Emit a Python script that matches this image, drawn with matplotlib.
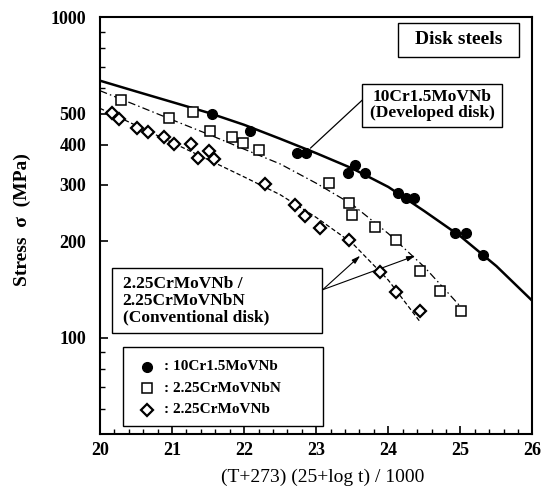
import matplotlib
matplotlib.use("Agg")
import matplotlib.pyplot as plt
from matplotlib.ticker import FixedLocator, NullFormatter, MultipleLocator
from matplotlib.patches import Rectangle

plt.rcParams['font.family'] = ['Liberation Serif', 'DejaVu Serif']

# ---- data ----
circ_x = [21.55, 22.08, 22.73, 22.86, 23.44, 23.54, 23.68, 24.14, 24.24, 24.35, 24.93, 25.08, 25.32]
circ_y = [500, 442, 376, 376, 325, 345, 325, 283, 272, 272, 212, 212, 181]

sq_x = [20.29, 20.96, 21.29, 21.53, 21.83, 21.98, 22.20, 23.17, 23.45, 23.50, 23.81, 24.10, 24.44, 24.72, 25.01]
sq_y = [551, 484, 505, 442, 422, 404, 385, 303, 262, 242, 222, 202, 161, 140, 121]

dia_x = [20.16, 20.27, 20.51, 20.66, 20.89, 21.02, 21.26, 21.36, 21.51, 21.58, 22.29, 22.71, 22.85, 23.05, 23.45, 23.89, 24.11, 24.44]
dia_y = [501, 480, 450, 439, 422, 401, 401, 363, 383, 361, 301, 260, 240, 219, 202, 160, 139, 121]

# fitted curves
solid_x = [20, 20.5, 21, 21.5, 22, 22.5, 23, 23.5, 24, 24.5, 25, 25.5, 26]
solid_y = [633, 586, 543, 503, 461, 417, 376, 337, 295, 248, 207, 167, 130]

dashdot_x = [20, 20.5, 21, 21.5, 22, 22.5, 23, 23.5, 24, 24.5, 25]
dashdot_y = [589, 531, 478, 431, 387, 348, 303, 260, 211, 166, 125]

dashed_x = [20, 20.5, 21, 21.5, 22, 22.5, 23, 23.5, 24, 24.44]
dashed_y = [519, 459, 406, 359, 317, 279, 237, 197, 151, 112]

labels = [': 10Cr1.5MoVNb', ': 2.25CrMoVNbN', ': 2.25CrMoVNb']
y_major = [100, 200, 300, 400, 500, 1000]
y_minor = [60, 70, 80, 90, 600, 700, 800, 900]
x_major = [20, 21, 22, 23, 24, 25, 26]

fig = plt.figure(figsize=(5.58, 5.01), dpi=100)
ax = fig.add_axes([0.1792, 0.1337, 0.7751, 0.8323])

ax.set_yscale('log')
ax.set_xlim(20, 26)
ax.set_ylim(50, 1000)

# curves
ax.plot(solid_x, solid_y, color='black', lw=1.8, zorder=2)
ax.plot(dashdot_x, dashdot_y, color='black', lw=0.9, dashes=[6, 2.5, 1.2, 2.5], zorder=2)
ax.plot(dashed_x, dashed_y, color='black', lw=0.9, dashes=[3.5, 2], zorder=2)

# markers
ax.plot(circ_x, circ_y, ls='none', marker='o', ms=7, mfc='black', mec='black', zorder=4)
ax.plot(sq_x, sq_y, ls='none', marker='s', ms=7, mfc='white', mec='black', mew=1.1, zorder=4)
ax.plot(dia_x, dia_y, ls='none', marker='D', ms=6.3, mfc='white', mec='black', mew=1.6, zorder=4)

# ticks
ax.set_yticks(y_major)
ax.set_yticklabels([str(v) for v in y_major])
ax.yaxis.set_minor_locator(FixedLocator(y_minor))
ax.yaxis.set_minor_formatter(NullFormatter())
ax.set_xticks(x_major)
ax.set_xticklabels([str(v) for v in x_major])
ax.xaxis.set_minor_locator(MultipleLocator(0.2))
ax.tick_params(which='major', direction='in', length=6, width=1.2, labelsize=13, pad=6)
ax.tick_params(which='minor', direction='in', length=3.5, width=1.0)
ax.tick_params(axis='y', which='major', pad=10)
for lab in ax.get_xticklabels() + ax.get_yticklabels():
    lab.set_fontweight('bold')
for s in ax.spines.values():
    s.set_linewidth(1.5)

# axis labels
fig.text(22 / 558, 1 - 220 / 501, 'Stress  σ  (MPa)', rotation=90, ha='center', va='center',
         fontsize=14, fontweight='bold')
fig.text(323 / 558, 1 - 477 / 501, '(T+273) (25+log t) / 1000', ha='center', va='center',
         fontsize=14)

# boxes
def box(x0, y0, x1, y1, lw=1.0):
    ax.add_patch(Rectangle((x0, y0), x1 - x0, y1 - y0, transform=ax.transAxes,
                           fc='white', ec='black', lw=lw, zorder=5))

box(0.688, 0.9048, 0.969, 0.9863)
ax.text(0.8285, 0.9456, 'Disk steels', transform=ax.transAxes, ha='center', va='center',
        fontsize=14, fontweight='bold', zorder=6)

box(0.6065, 0.737, 0.930, 0.8386)
ax.text(0.768, 0.789, '10Cr1.5MoVNb\n(Developed disk)', transform=ax.transAxes, ha='center',
        va='center', fontsize=12.5, fontweight='bold', linespacing=1.0, zorder=6)

box(0.027, 0.2415, 0.5126, 0.3974)
ax.text(0.0525, 0.3194, '2.25CrMoVNb /\n2.25CrMoVNbN\n(Conventional disk)', transform=ax.transAxes,
        ha='left', va='center', fontsize=12.5, fontweight='bold', linespacing=1.05, zorder=6)

# legend (manual)
box(0.0525, 0.019, 0.5163, 0.2079)
leg_y = [0.1614, 0.1096, 0.0576]
ax.plot([0.109], [leg_y[0]], transform=ax.transAxes, marker='o', ms=7, mfc='black', mec='black',
        ls='none', zorder=7, clip_on=False)
ax.plot([0.109], [leg_y[1]], transform=ax.transAxes, marker='s', ms=7, mfc='white', mec='black',
        mew=1.1, ls='none', zorder=7, clip_on=False)
ax.plot([0.109], [leg_y[2]], transform=ax.transAxes, marker='D', ms=6.3, mfc='white', mec='black',
        mew=1.6, ls='none', zorder=7, clip_on=False)
for yy, lab in zip(leg_y, labels):
    ax.text(0.148, yy, lab, transform=ax.transAxes, ha='left', va='center', fontsize=11,
            fontweight='bold', zorder=7)

# annotation lines
ax.annotate('', xy=(22.92, 390), xytext=(23.64, 551),
            arrowprops=dict(arrowstyle='-', lw=0.9, color='black', shrinkA=0, shrinkB=0), zorder=3)
for tx in [23.61, 24.375]:
    ax.annotate('', xy=(tx, 180), xytext=(23.09, 141),
                arrowprops=dict(arrowstyle='-|>,head_length=0.5,head_width=0.15', lw=0.8,
                                color='black', shrinkA=0, shrinkB=0), zorder=3)

fig.savefig('out.png', dpi=100)
